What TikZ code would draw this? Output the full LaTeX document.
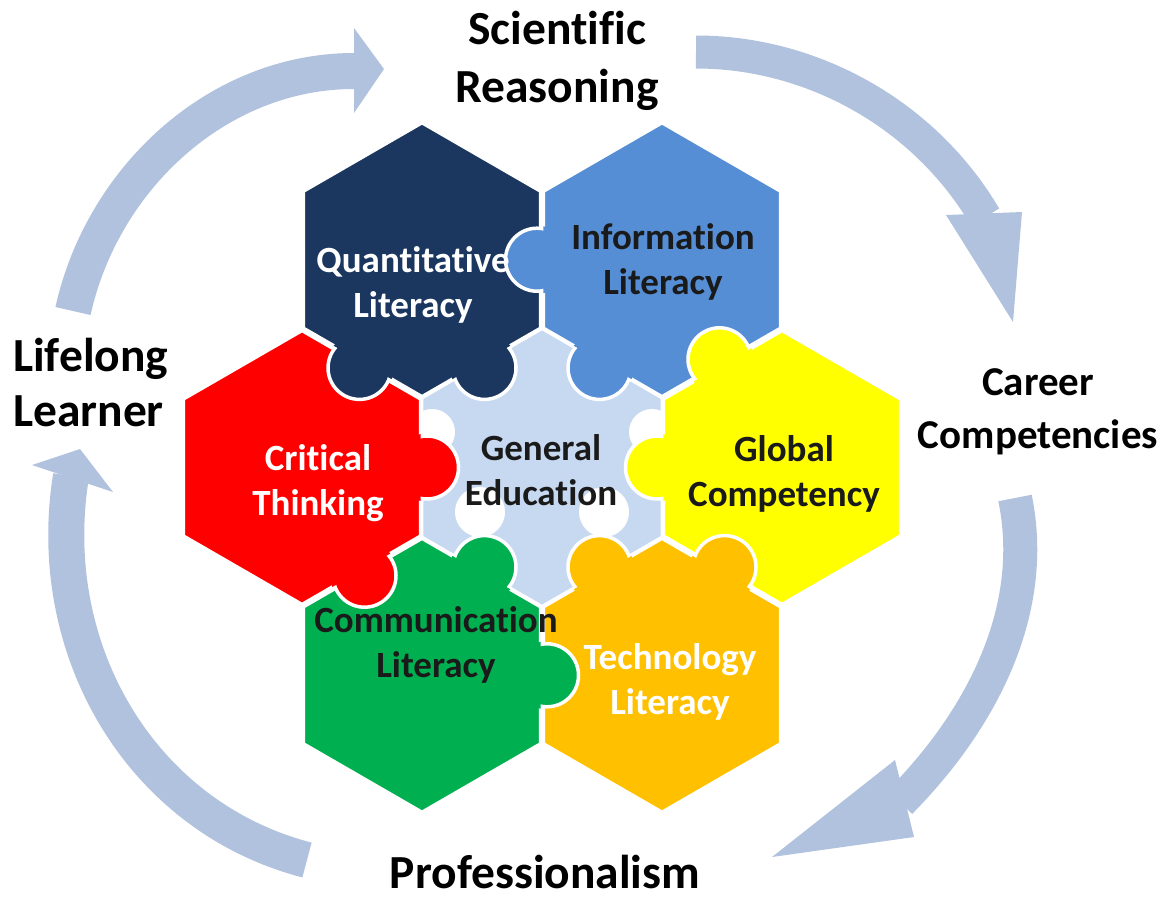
\documentclass[tikz,border=0pt]{standalone}
\usepackage{fontspec}
\setmainfont{Carlito}[Ligatures=CommonOff]
\usetikzlibrary{calc}
\definecolor{quant}{HTML}{1B375F}
\definecolor{info}{HTML}{558ED5}
\definecolor{crit}{HTML}{FF0000}
\definecolor{glob}{HTML}{FFFF00}
\definecolor{comm}{HTML}{00B050}
\definecolor{tech}{HTML}{FFC000}
\definecolor{gened}{HTML}{C6D9F1}
\definecolor{arr}{HTML}{B0C2DE}
\definecolor{txt}{HTML}{1A1A1A}
\newcommand{\hexat}[1]{([shift={(0,-137)}]#1) -- ([shift={(118.65,-68.5)}]#1) -- ([shift={(118.65,68.5)}]#1) -- ([shift={(0,137)}]#1) -- ([shift={(-118.65,68.5)}]#1) -- ([shift={(-118.65,-68.5)}]#1) -- cycle}
\newcommand{\knob}[3]{%
  \draw[white, line width=3.5, fill=#3] (#2) circle (31.5);
  \begin{scope}\clip (#2) circle (34); \fill[#3] \hexat{#1}; \end{scope}}
\begin{document}
\begin{tikzpicture}[x=1pt,y=-1pt,
  piece/.style={draw=white, line width=3.5},
  shaft/.style={draw=arr, line width=36},
  head/.style={fill=arr},
  lblout/.style={font=\fontsize{47.5}{57}\selectfont\bfseries, text=black, align=center, inner sep=0},
  lblin/.style={font=\fontsize{37}{45}\selectfont\bfseries, text=txt, align=center, inner sep=0}]
\useasboundingbox (0,0) rectangle (1169,897);
% centres
\coordinate (C0) at (542,467.5);
\coordinate (Q) at (422,259.7);
\coordinate (I) at (662,259.7);
\coordinate (CT) at (302,467.5);
\coordinate (G) at (782,467.5);
\coordinate (M) at (422,675.3);
\coordinate (T) at (662,675.3);
% arrows
\coordinate (a1s) at (73,311); \coordinate (a1e) at (354,71);
\draw[shaft] (a1s) .. controls (102.5,178) and (218,71) .. (a1e);
\fill[head] (354,28) -- (384,69) -- (354,113) -- cycle;
\coordinate (a2s) at (696,52); \coordinate (a2e) at (985,217);
\draw[shaft, line width=33] (a2s) .. controls (813,52) and (925,115) .. (a2e);
\fill[head] (946,215) -- (1022,212) -- (1013,322) -- cycle;
\coordinate (a3s) at (1015,498); \coordinate (a3e) at (900,802);
\draw[shaft, line width=34] (a3s) .. controls (1038,609) and (983,718) .. (a3e);
\fill[head] (895,760) -- (914,837) -- (772,857) -- cycle;
\coordinate (a4s) at (307,860); \coordinate (a4e) at (71,476);
\draw[shaft] (a4s) .. controls (141,817) and (43,650) .. (a4e);
\fill[head] (32,465) -- (80,449) -- (113,492) -- cycle;
% centre piece
\fill[gened] \hexat{C0};
\fill[white] (432,432) circle (23) (652,432) circle (23) (480,512) circle (25) (604,512) circle (25);
% hex bodies
\path[piece, fill=quant] \hexat{Q};
\path[piece, fill=info] \hexat{I};
\path[piece, fill=crit] \hexat{CT};
\path[piece, fill=glob] \hexat{G};
\path[piece, fill=comm] \hexat{M};
\path[piece, fill=tech] \hexat{T};
% knobs
\coordinate (k1) at (537,259.7);
\coordinate (k2) at (359.5,367.9);
\coordinate (k3) at (484.5,367.9);
\coordinate (k4) at (599.5,367.9);
\coordinate (k5) at (719.5,359.3);
\coordinate (k6) at (427,467.5);
\coordinate (k7) at (657,467.5);
\coordinate (k8) at (364.5,575.7);
\coordinate (k9) at (484.5,567.1);
\coordinate (k10) at (599.5,567.1);
\coordinate (k11) at (724.5,567.1);
\coordinate (k12) at (547,675.3);
\knob{I}{k1}{info}
\knob{Q}{k2}{quant}
\knob{Q}{k3}{quant}
\knob{I}{k4}{info}
\knob{G}{k5}{glob}
\knob{CT}{k6}{crit}
\knob{G}{k7}{glob}
\knob{CT}{k8}{crit}
\knob{M}{k9}{comm}
\knob{T}{k10}{tech}
\knob{T}{k11}{tech}
\knob{M}{k12}{comm}
% labels
\node[lblout, font=\fontsize{47.5}{58}\selectfont\bfseries] (sci) at (557,61) {Scientific\\Reasoning};
\node[lblout, anchor=west, align=left, font=\fontsize{47.5}{55}\selectfont\bfseries] (life) at (13,383) {Lifelong\\Learner};
\node[lblout, font=\fontsize{41}{53}\selectfont\bfseries] (career) at (1038,412) {Career\\Competencies};
\node[lblout] (prof) at (545,872) {Professionalism};
\node[lblin, text=white] (tq) at (413,285) {Quantitative\\Literacy};
\node[lblin] (ti) at (663,262) {Information\\Literacy};
\node[lblin, text=white] (tc) at (318,483) {Critical\\Thinking};
\node[lblin] (tg) at (541,470) {General\\Education};
\node[lblin] (tgl) at (784,474) {Global\\Competency};
\node[lblin] (tcm) at (436,645) {Communication\\Literacy};
\node[lblin, text=white] (tt) at (670,682) {Technology\\Literacy};
\end{tikzpicture}
\end{document}
